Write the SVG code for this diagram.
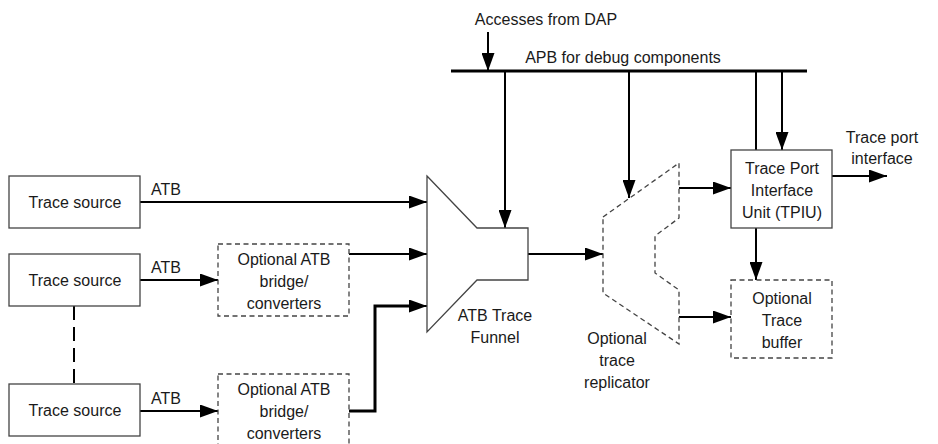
<svg xmlns="http://www.w3.org/2000/svg" width="938" height="444" viewBox="0 0 938 444">
<style>
text{font-family:"Liberation Sans",Arial,sans-serif;font-size:16px;fill:#1a1a1a;text-anchor:middle}
.box{fill:#fff;stroke:#444;stroke-width:1.3}
.dbox{fill:#fff;stroke:#444;stroke-width:1.3;stroke-dasharray:5,3.5}
.ln{fill:none;stroke:#000;stroke-width:2}
.thick{fill:none;stroke:#000;stroke-width:3}
</style>
<defs>
<marker id="ah" viewBox="0 0 18 13" refX="18" refY="6.5" markerWidth="18" markerHeight="13" markerUnits="userSpaceOnUse" orient="auto">
<path d="M0,0 L18,6.5 L0,13 Z" fill="#000"/>
</marker>
</defs>
<rect width="938" height="444" fill="#fff"/>
<g id="connectors">
<path class="ln" d="M488,32 V71" marker-end="url(#ah)"/>
<path class="thick" d="M451,71 H807"/>
<path class="ln" d="M505,71 V228" marker-end="url(#ah)"/>
<path class="ln" d="M629,71 V198" marker-end="url(#ah)"/>
<path class="ln" d="M756,71 V150"/>
<path class="ln" d="M782,71 V150" marker-end="url(#ah)"/>
<path class="ln" d="M140,202 H427" marker-end="url(#ah)"/>
<path class="ln" d="M140,280 H218" marker-end="url(#ah)"/>
<path class="ln" d="M349,254 H427" marker-end="url(#ah)"/>
<path class="ln" d="M140,411 H218" marker-end="url(#ah)"/>
<path class="thick" d="M349,411 H375 V306 H412"/>
<path class="ln" d="M410,306 H427" marker-end="url(#ah)"/>
<path class="ln" d="M74,306 V384" stroke-dasharray="14,7"/>
<path class="ln" d="M528,254 H603" marker-end="url(#ah)"/>
<path class="ln" d="M679,188 H731" marker-end="url(#ah)"/>
<path class="ln" d="M679,317 H731" marker-end="url(#ah)"/>
<path class="ln" d="M756,228 V280" marker-end="url(#ah)"/>
<path class="ln" d="M832,176 H887" marker-end="url(#ah)"/>
</g>
<g id="labels">
<text x="546" y="25">Accesses from DAP</text>
<text x="623" y="63">APB for debug components</text>
<text x="166" y="195">ATB</text>
<text x="166" y="273">ATB</text>
<text x="166" y="404">ATB</text>
<text x="882" y="143">Trace port</text>
<text x="882" y="164">interface</text>
</g>
<g id="src1"><rect class="box" x="9" y="176" width="131" height="52"/><text x="75" y="208">Trace source</text></g>
<g id="src2"><rect class="box" x="9" y="254" width="131" height="52"/><text x="75" y="286">Trace source</text></g>
<g id="src3"><rect class="box" x="9" y="384" width="131" height="52"/><text x="75" y="416">Trace source</text></g>
<g id="bridge1"><rect class="dbox" x="218" y="244" width="131" height="72"/>
<text x="284" y="265">Optional ATB</text><text x="284" y="287">bridge/</text><text x="284" y="309">converters</text></g>
<g id="bridge2"><rect class="dbox" x="218" y="374" width="131" height="72"/>
<text x="284" y="395">Optional ATB</text><text x="284" y="417">bridge/</text><text x="284" y="439">converters</text></g>
<g id="funnel"><path class="box" d="M427,176 L477,228 H528 V280 H477 L427,332 Z"/>
<text x="495" y="321">ATB Trace</text><text x="495" y="343">Funnel</text></g>
<g id="replicator"><path class="dbox" d="M603,217 L679,163 V218 L655,236 V273 L679,290 V344 L603,293 Z" style="fill:none"/>
<text x="617" y="344">Optional</text><text x="617" y="366">trace</text><text x="617" y="388">replicator</text></g>
<g id="tpiu"><rect class="box" x="731" y="150" width="101" height="78"/>
<text x="782" y="174">Trace Port</text><text x="782" y="196">Interface</text><text x="782" y="218">Unit (TPIU)</text></g>
<g id="buffer"><rect class="dbox" x="731" y="280" width="101" height="78"/>
<text x="782" y="304">Optional</text><text x="782" y="326">Trace</text><text x="782" y="348">buffer</text></g>
</svg>
